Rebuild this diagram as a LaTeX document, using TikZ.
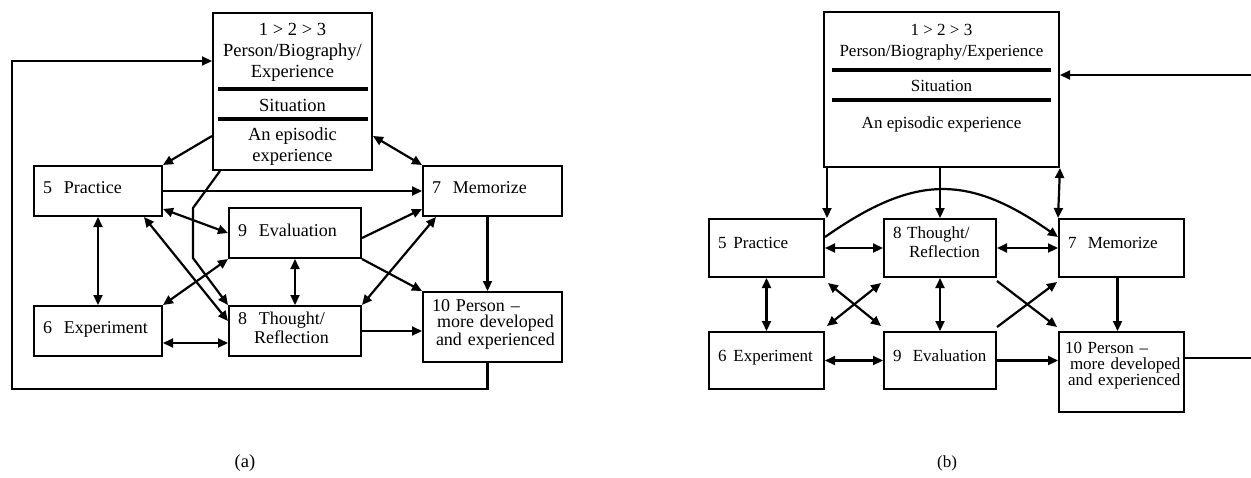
\documentclass[tikz,border=0pt]{standalone}
\usepackage{fontspec}
\setmainfont{Liberation Serif}
\usetikzlibrary{arrows.meta}

\begin{document}
\begin{tikzpicture}[x=1pt,y=-1pt,->,>={Triangle[length=10pt,width=9pt]},line width=2.2pt,
    box/.style={draw,rectangle,line width=2pt,align=left,inner xsep=9pt,inner ysep=0pt,font=\fontsize{17}{19}\selectfont},
    txt/.style={inner sep=0pt,align=center,font=\fontsize{17}{21}\selectfont},
    rule line/.style={-,line width=3.2pt}]
  \useasboundingbox (0,0) rectangle (1251,477);
  % (a)
  \begin{scope}[box/.append style={font=\fontsize{18}{19}\selectfont},
      txt/.append style={font=\fontsize{18.5}{21}\selectfont}]
    \node[box,minimum width=159pt,minimum height=157pt] (top) at (292.5,91.5) {};
    \node[txt] (topa) at (292.5,52) {1 > 2 > 3\\Person/Biography/\\Experience};
    \node[txt] (sita) at (292.5,105) {Situation};
    \node[txt] (epia) at (292.5,146.5) {An episodic\\experience};
    \draw[rule line] (218,89) -- (368,89);
    \draw[rule line] (218,119) -- (368,119);
    \node[box,text width=110pt,minimum height=50pt,text depth=6pt] (prac) at (98,191) {\mbox{5~~Practice}};
    \node[box,text width=121pt,minimum height=50pt,text depth=6pt] (memo) at (492.5,191) {\mbox{7~~Memorize}};
    \node[box,text width=114pt,minimum height=50pt,text depth=6pt] (eval) at (295,233) {\mbox{9~~Evaluation}};
    \node[box,text width=114pt,minimum height=50pt,text depth=26pt] (thou) at (295,331) {\mbox{8~~Thought/}\\\mbox{\hspace*{16pt}Reflection}};
    \node[box,text width=110pt,minimum height=50pt,text depth=6pt] (expe) at (98,331) {\mbox{6~~Experiment}};
    \node[box,text width=121pt,minimum height=70pt,text depth=42pt,font=\fontsize{18}{16}\selectfont] (pers) at (492.5,327) {\mbox{10 Person –}\\\mbox{\hspace*{5pt}more\hspace{6pt}developed}\\\mbox{\hspace*{4pt}and experienced}};
    \draw[->] ([yshift=35pt]top.south west) -- (prac.north east);
    \draw[<->] ([yshift=35pt]top.south east) -- (memo.north west);
    \draw[->] (prac.east) -- (memo.west);
    \draw[<->] ([yshift=8pt]prac.south east) -- (eval.west);
    \draw[<->] (prac.south) -- (expe.north);
    \draw[<->] ([xshift=-19pt]prac.south east) -- ([yshift=10pt]thou.west);
    \draw[<->] (eval.south west) -- (expe.north east);
    \draw[<->] ([yshift=-12pt]expe.east) -- ([yshift=-12pt]thou.west);
    \draw[<->] (eval.south) -- (thou.north);
    \draw[->] ([yshift=-5pt]eval.east) -- ([yshift=8pt]memo.south west);
    \draw[<->] (thou.north east) -- ([xshift=14pt]memo.south west);
    \draw[->] (eval.south east) -- (pers.north west);
    \draw[->] ([xshift=-5pt]memo.south) -- ([xshift=-5pt]pers.north);
    \draw[->] (thou.east) -- (thou.east -| pers.west);
    \draw[->] ([xshift=8pt]top.south west) -- (193,208) -- (193,258) -- (thou.north west);
    \coordinate (back) at (12,389);
    \draw[->] ([xshift=-5pt]pers.south) |- (back) |- ([yshift=30.5pt]top.west);
    \node[txt] (capa) at (245,463) {(a)};
  \end{scope}
  % (b)
  \begin{scope}
    \node[box,minimum width=235pt,minimum height=155pt] (topb) at (941.5,89.5) {};
    \node[txt] (topbt) at (941.5,42) {1 > 2 > 3\\Person/Biography/Experience};
    \node[txt] (sitb) at (941.5,86) {Situation};
    \node[txt] (epib) at (941.5,124) {An episodic experience};
    \draw[rule line] (832,70) -- (1051,70);
    \draw[rule line] (832,100) -- (1051,100);
    \node[box,text width=97pt,minimum height=58pt,text depth=10pt] (pracb) at (766.5,248) {\mbox{5\hspace{7pt}Practice}};
    \node[box,text width=94pt,minimum height=58pt,text depth=30pt] (thoub) at (940,248) {\mbox{8 Thought/}\\\mbox{\hspace*{16pt}Reflection}};
    \node[box,text width=107pt,minimum height=58pt,text depth=10pt] (memob) at (1121.5,248) {\mbox{7~~Memorize}};
    \node[box,text width=97pt,minimum height=57pt,text depth=10pt] (expeb) at (766.5,360.5) {\mbox{6\hspace{7pt}Experiment}};
    \node[box,text width=94pt,minimum height=57pt,text depth=10pt] (evalb) at (940,360.5) {\mbox{9~~Evaluation}};
    \node[box,inner xsep=4pt,text width=117pt,minimum height=80pt,text depth=48pt,font=\fontsize{17}{16}\selectfont] (persb) at (1121.5,372) {\mbox{\hspace*{2pt}10 Person –}\\\mbox{\hspace*{7pt}more developed}\\\mbox{\hspace*{5pt}and experienced}};
    \draw[->] ([xshift=2pt]pracb.north east |- topb.south) -- ([xshift=2pt]pracb.north east);
    \draw[->] (thoub.north |- topb.south) -- (thoub.north);
    \draw[<->] (topb.south east) -- (memob.north west);
    \draw[->] ([yshift=11pt]pracb.east) .. controls (915,174) and (968,174) .. ([yshift=11pt]memob.west);
    \draw[<->] (pracb.east) -- (thoub.west);
    \draw[<->] (thoub.east) -- (memob.west);
    \draw[<->] (pracb.south) -- (expeb.north);
    \draw[<->] ([shift={(3pt,-5pt)}]pracb.south east) -- ([shift={(-2pt,5pt)}]evalb.north west);
    \draw[<->] ([shift={(2pt,5pt)}]expeb.north east) -- ([shift={(-2pt,-5pt)}]thoub.south west);
    \draw[<->] (thoub.south) -- (evalb.north);
    \draw[->] ([yshift=-3pt]thoub.south east) -- ([shift={(-1pt,4pt)}]persb.north west);
    \draw[->] ([yshift=4pt]evalb.north east) -- ([shift={(-1pt,-4pt)}]memob.south west);
    \draw[->] ([xshift=-4pt]memob.south) -- ([xshift=-4pt]persb.north);
    \draw[<->] (expeb.east) -- (evalb.west);
    \draw[->] (evalb.east) -- (evalb.east -| persb.west);
    \coordinate (outb) at (1251,358);
    \coordinate (inb) at (1251,75);
    \draw[-] (persb.east |- outb) -- (outb);
    \draw[->] (inb) -- (inb -| topb.east);
    \node[txt] (capb) at (947,463) {(b)};
  \end{scope}
\end{tikzpicture}
\end{document}
